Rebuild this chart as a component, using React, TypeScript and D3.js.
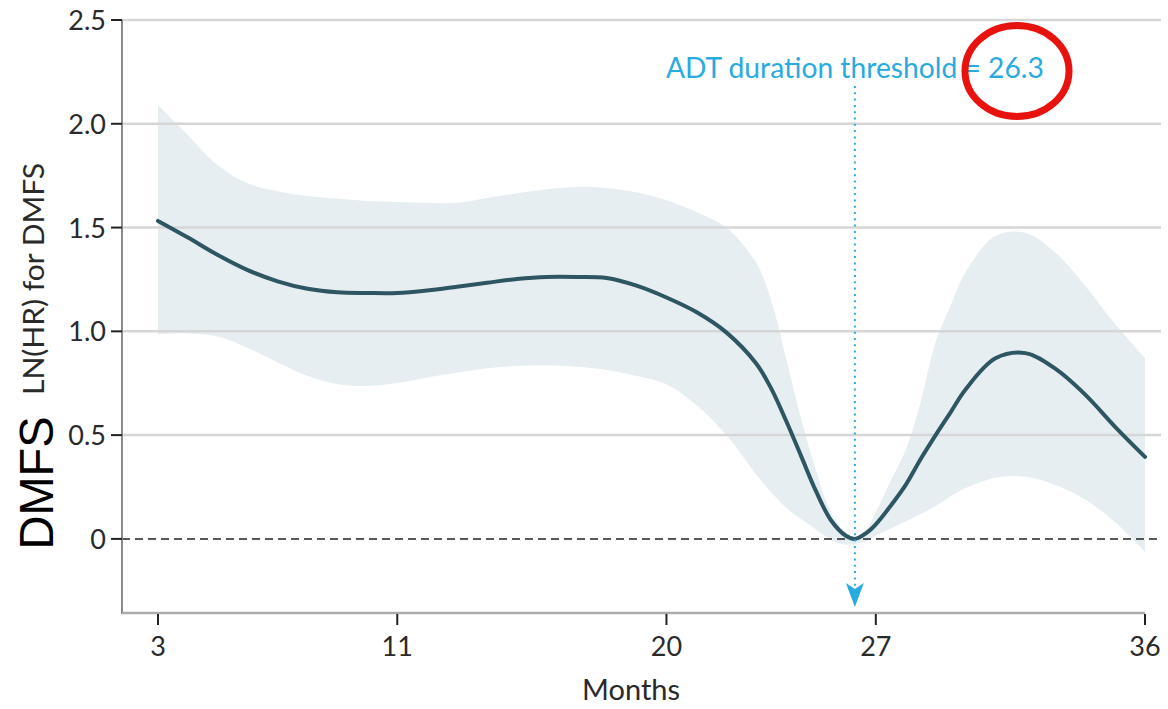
import React from "react";
import * as d3 from "d3";

const months = [3, 4, 5, 6, 7, 8, 9, 10, 11, 12, 13, 14, 15, 16, 17, 18, 19, 20, 21, 22, 23, 23.5, 24, 24.5, 25, 25.5, 26, 26.3, 26.7, 27, 27.5, 28, 28.5, 29, 29.5, 30, 31, 32, 33, 34, 35, 36];
const lnHR = [1.532, 1.452, 1.368, 1.295, 1.241, 1.205, 1.188, 1.185, 1.185, 1.197, 1.215, 1.234, 1.252, 1.262, 1.262, 1.257, 1.22, 1.163, 1.093, 0.995, 0.845, 0.725, 0.569, 0.4, 0.23, 0.09, 0.015, 0.0, 0.03, 0.07, 0.16, 0.26, 0.385, 0.5, 0.61, 0.72, 0.87, 0.895, 0.82, 0.695, 0.54, 0.395];
const ciUpper = [2.09, 1.945, 1.8, 1.713, 1.675, 1.652, 1.64, 1.628, 1.623, 1.618, 1.62, 1.643, 1.665, 1.685, 1.696, 1.691, 1.67, 1.632, 1.575, 1.5, 1.33, 1.15, 0.87, 0.58, 0.33, 0.13, 0.03, 0.01, 0.05, 0.13, 0.28, 0.43, 0.66, 0.95, 1.125, 1.285, 1.46, 1.475, 1.38, 1.22, 1.035, 0.872];
const ciLower = [0.985, 0.99, 0.975, 0.92, 0.85, 0.785, 0.745, 0.737, 0.751, 0.778, 0.8, 0.822, 0.833, 0.837, 0.829, 0.814, 0.785, 0.745, 0.645, 0.5, 0.31, 0.225, 0.15, 0.097, 0.045, -0.005, -0.028, -0.025, -0.01, 0.015, 0.05, 0.085, 0.12, 0.158, 0.205, 0.245, 0.295, 0.3, 0.26, 0.19, 0.08, -0.063];

const xTicks = [3, 11, 20, 27, 36];
const yTicks = [0, 0.5, 1.0, 1.5, 2.0, 2.5];
const yTickLabels = ["0", "0.5", "1.0", "1.5", "2.0", "2.5"];
const gridValues = [0.5, 1.0, 1.5, 2.0, 2.5];
const threshold = 26.3;
const thresholdLabel = "ADT duration threshold = 26.3";
const xTitle = "Months";
const yTitle = "LN(HR) for DMFS";
const sideTitle = "DMFS";

const W = 1168;
const H = 709;
const FONT = "Lato, 'Open Sans', sans-serif";

export default function App() {
  const x = d3.scaleLinear().domain([3, 36]).range([158, 1145]);
  const y = d3.scaleLinear().domain([-0.357, 2.5]).range([613, 20]);
  const idx = months.map((_, i) => i);
  const curve = d3.curveCatmullRom.alpha(0.5);

  const area = d3
    .area<number>()
    .x((i) => x(months[i]))
    .y0((i) => y(ciLower[i]))
    .y1((i) => y(ciUpper[i]))
    .curve(curve);
  const line = d3
    .line<number>()
    .x((i) => x(months[i]))
    .y((i) => y(lnHR[i]))
    .curve(curve);

  const axisLeft = 122;
  const axisBottom = y(-0.357);
  const tx = x(threshold);

  return (
    <svg
      width={W}
      height={H}
      style={{ position: "absolute", left: 0, top: 0, background: "#fff" }}
    >
      {/* CI band */}
      <path d={area(idx) || ""} fill="#e7eef2" />
      {/* gridlines */}
      {gridValues.map((v) => (
        <line key={v} x1={axisLeft} x2={1161} y1={y(v)} y2={y(v)} stroke="#d6d6d6" strokeWidth={2.5} />
      ))}
      {/* zero line */}
      <line x1={axisLeft} x2={1161} y1={y(0)} y2={y(0)} stroke="#222" strokeWidth={1.5} strokeDasharray="8 5" />
      {/* axes */}
      <line x1={axisLeft} x2={axisLeft} y1={y(2.5)} y2={axisBottom + 1} stroke="#8a8a8a" strokeWidth={2} />
      <line x1={axisLeft} x2={x(36)} y1={axisBottom} y2={axisBottom} stroke="#ababab" strokeWidth={2.5} />
      {yTicks.map((v, i) => (
        <g key={v}>
          <line x1={111} x2={axisLeft} y1={y(v)} y2={y(v)} stroke="#222" strokeWidth={2} />
          <text x={106} y={y(v) + 10} textAnchor="end" fontFamily={FONT} fontSize={27} fill="#2a2a2a">
            {yTickLabels[i]}
          </text>
        </g>
      ))}
      {xTicks.map((m) => (
        <g key={m}>
          <line x1={x(m)} x2={x(m)} y1={axisBottom + 1} y2={axisBottom + 12} stroke="#222" strokeWidth={2} />
          <text x={x(m)} y={656} textAnchor="middle" fontFamily={FONT} fontSize={27} fill="#2a2a2a">
            {m}
          </text>
        </g>
      ))}
      {/* main curve */}
      <path d={line(idx) || ""} fill="none" stroke="#2d5562" strokeWidth={4} strokeLinecap="round" />
      {/* threshold */}
      <line x1={tx} x2={tx} y1={86} y2={590} stroke="#29aae1" strokeWidth={2} strokeDasharray="2 4.3" />
      <path
        d={`M ${tx - 9} ${583} L ${tx} ${589} L ${tx + 9} ${583} L ${tx} ${607} Z`}
        fill="#29aae1"
      />
      <text
        x={tx}
        y={78}
        textAnchor="middle"
        fontFamily={FONT}
        fontSize={28}
        fill="#29aae1"
        textLength={378}
        lengthAdjust="spacingAndGlyphs"
      >
        {thresholdLabel}
      </text>
      {/* titles */}
      <text
        x={631}
        y={700}
        textAnchor="middle"
        fontFamily={FONT}
        fontSize={28}
        fill="#2a2a2a"
        textLength={98}
        lengthAdjust="spacingAndGlyphs"
      >
        {xTitle}
      </text>
      <text
        transform={`translate(44, 279) rotate(-90)`}
        textAnchor="middle"
        fontFamily={FONT}
        fontSize={29}
        fill="#2a2a2a"
        textLength={232}
        lengthAdjust="spacingAndGlyphs"
      >
        {yTitle}
      </text>
      <text
        transform={`translate(53, 483) rotate(-90)`}
        textAnchor="middle"
        fontFamily="'Liberation Sans', Arial, sans-serif"
        fontSize={49}
        fill="#000"
        textLength={133}
        lengthAdjust="spacingAndGlyphs"
      >
        {sideTitle}
      </text>
      {/* red annotation ellipse */}
      <ellipse cx={1017} cy={71} rx={52} ry={45.5} fill="none" stroke="#e8120e" strokeWidth={7} />
    </svg>
  );
}
